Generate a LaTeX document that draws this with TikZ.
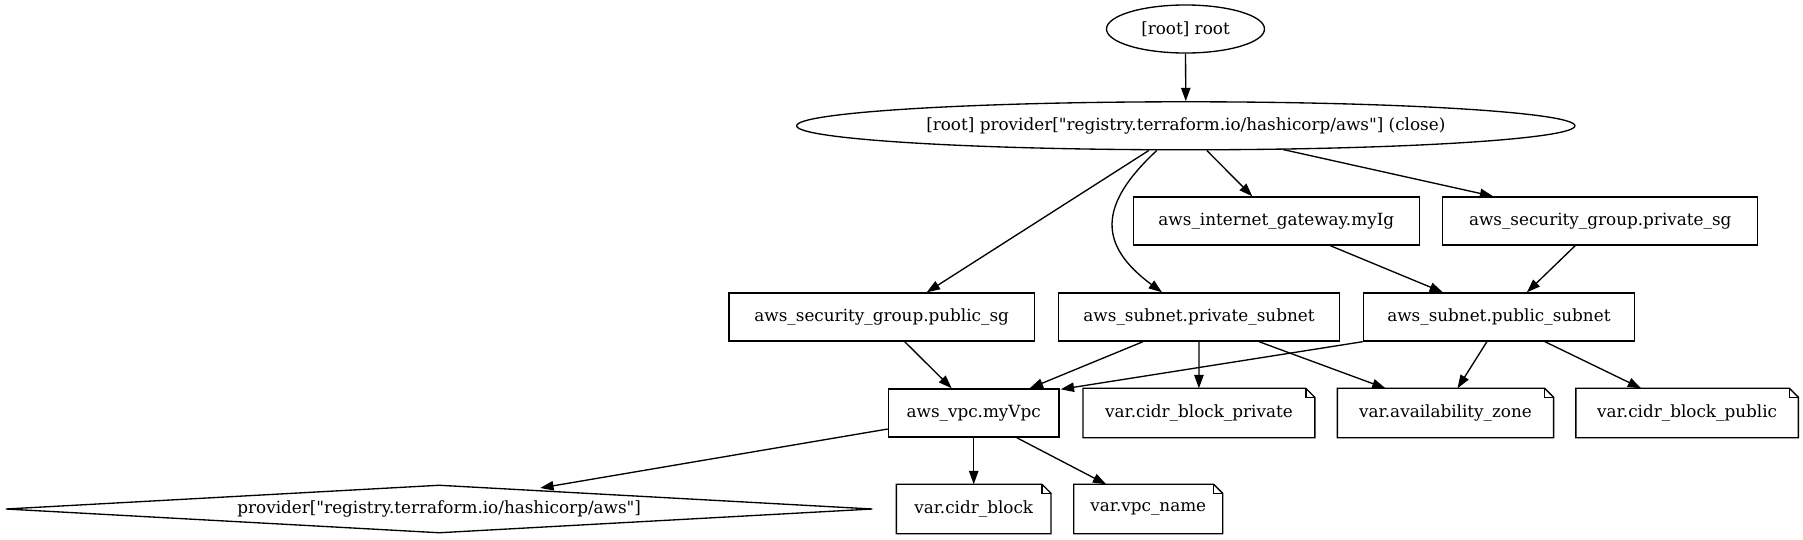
\documentclass[tikz,border=0pt]{standalone}
\usepackage{fontspec}
\setmainfont{DejaVu Serif}[Ligatures=TeXOff]
\usetikzlibrary{shapes.geometric,arrows.meta,calc}
\newcommand\notefold[1]{%
  \draw[line width=1pt,line join=miter] (#1.north west) -- ($(#1.north east)+(-9,0)$) -- ($(#1.north east)+(0,9)$) -- (#1.south east) -- (#1.south west) -- cycle;
  \draw[line width=1pt] ($(#1.north east)+(-9,0)$) -- ($(#1.north east)+(-9,9)$) -- ($(#1.north east)+(0,9)$);}
\tikzset{
  base/.style={font=\fontsize{12.6pt}{15pt}\selectfont, inner sep=0pt, minimum height=36pt, line width=1pt},
  box/.style={base, draw, rectangle},
  notebox/.style={base, rectangle},
  oval/.style={base, draw, ellipse},
  dia/.style={base, draw, diamond, inner xsep=-140pt, aspect=1},
  conn/.style={line width=1pt, -{Triangle[length=10pt,width=7pt]}},
}
\begin{document}
\begin{tikzpicture}[x=0.7495pt,y=-0.7495pt]
\fill[white] (0,0) rectangle (1803,539);
\useasboundingbox (0,0) rectangle (1803,539);

\node[oval, minimum width=118.4pt] (root) at (1185.5,29) {[root] root};
\node[oval, minimum width=583.3pt, inner xsep=-80pt] (prov) at (1185.8,125.8) {[root] provider["registry.terraform.io/hashicorp/aws"] (close)};
\node[box, minimum width=214.4pt] (gw) at (1276.3,221) {aws\_internet\_gateway.myIg};
\node[box, minimum width=236.1pt] (privsg) at (1600.2,221) {aws\_security\_group.private\_sg};
\node[box, minimum width=228.8pt] (psg) at (881.7,317) {aws\_security\_group.public\_sg};
\node[box, minimum width=210.8pt] (privsub) at (1199,317) {aws\_subnet.private\_subnet};
\node[box, minimum width=203.1pt] (pubsub) at (1498.9,317) {aws\_subnet.public\_subnet};
\node[box, minimum width=127.9pt] (vpc) at (973.7,413) {aws\_vpc.myVpc};
\node[notebox, minimum width=172.8pt] (cpriv) at (1198.9,413) {var.cidr\_block\_private};
\node[notebox, minimum width=161.1pt] (az) at (1445.5,413) {var.availability\_zone};
\node[notebox, minimum width=165.8pt] (cpub) at (1687.1,413) {var.cidr\_block\_public};
\node[dia, minimum width=649.8pt] (pv) at (439.2,509) {provider["registry.terraform.io/hashicorp/aws"]};
\node[notebox, minimum width=114.9pt] (cb) at (973.7,509) {var.cidr\_block};
\node[notebox, minimum width=110.7pt] (vn) at (1148.2,509) {var.vpc\_name};

\notefold{cpriv}
\notefold{az}
\notefold{cpub}
\notefold{cb}
\notefold{vn}

\draw[conn] (root.south) -- (prov.north);
\draw[conn] ($(prov.south)+(-37,0)$) -- ($(psg.north)+(45,0)$);
\draw[conn] ($(prov.south)+(-29,0)$) .. controls (1098,205) and (1098,245) .. ($(privsub.north)+(-37,0)$);
\draw[conn] ($(prov.south)+(21,0)$) -- ($(gw.north)+(-24,0)$);
\draw[conn] ($(prov.south)+(97,-1)$) -- ($(privsg.north)+(-107,0)$);
\draw[conn] ($(gw.south)+(54,0)$) -- ($(pubsub.north)+(-56,0)$);
\draw[conn] ($(privsg.south)+(-25,0)$) -- ($(pubsub.north)+(28,0)$);
\draw[conn] ($(psg.south)+(23,0)$) -- ($(vpc.north)+(-22,0)$);
\draw[conn] ($(privsub.south)+(-56,0)$) -- ($(vpc.north)+(56,0)$);
\draw[conn] (pubsub.south west) -- ($(vpc.north east)+(1,1)$);
\draw[conn] (privsub.south) -- (cpriv.north);
\draw[conn] ($(privsub.south)+(60,0)$) -- ($(az.north)+(-60,0)$);
\draw[conn] ($(pubsub.south)+(-12,0)$) -- ($(az.north)+(12,0)$);
\draw[conn] ($(pubsub.south)+(46,0)$) -- ($(cpub.north)+(-46,0)$);
\draw[conn] ($(vpc.west)+(0,16)$) -- ($(pv.center)+(101,-21)$);
\draw[conn] (vpc.south) -- (cb.north);
\draw[conn] ($(vpc.south)+(43,0)$) -- ($(vn.north)+(-42,0)$);
\end{tikzpicture}
\end{document}
